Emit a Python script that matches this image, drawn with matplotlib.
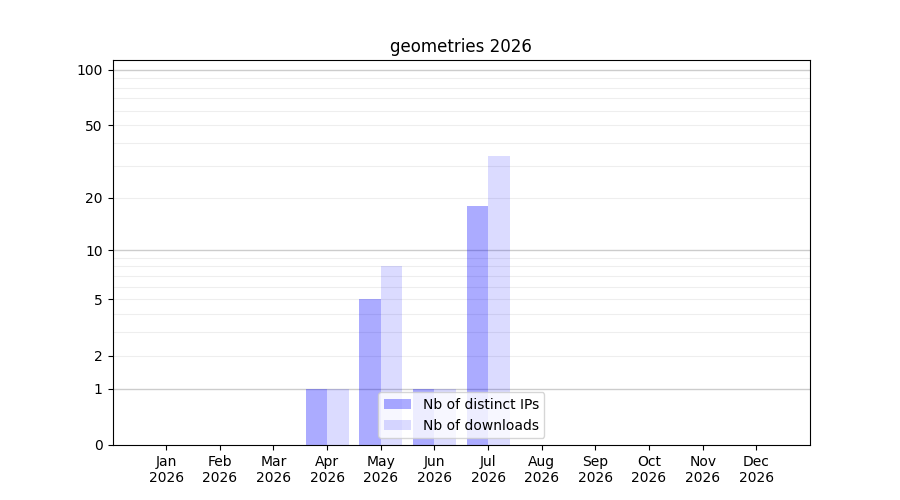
import numpy as np
import matplotlib
matplotlib.use("Agg")
import matplotlib.pyplot as plt

months = ["Jan", "Feb", "Mar", "Apr", "May", "Jun", "Jul", "Aug", "Sep", "Oct", "Nov", "Dec"]
year = "2026"
distinct_ips = [0, 0, 0, 1, 5, 1, 18, 0, 0, 0, 0, 0]
downloads = [0, 0, 0, 1, 8, 1, 34, 0, 0, 0, 0, 0]
y_ticks = [0, 1, 2, 5, 10, 20, 50, 100]
major_grid = [1, 10, 100]
minor_grid = [2, 3, 4, 5, 6, 7, 8, 9, 20, 30, 40, 50, 60, 70, 80, 90]
title = "geometries 2026"

fig, ax = plt.subplots(figsize=(9, 5), dpi=100)

def fwd(y):
    return np.log10(1 + np.clip(y, 0, None))

def inv(y):
    return 10 ** y - 1

ax.set_yscale("function", functions=(fwd, inv))

x = np.arange(len(months))
w = 0.4
ax.bar(x - w / 2, distinct_ips, width=w, color="blue", alpha=0.33, label="Nb of distinct IPs")
ax.bar(x + w / 2, downloads, width=w, color="blue", alpha=0.14, label="Nb of downloads")

for v in major_grid:
    ax.axhline(v, color="#cccccc", lw=1, zorder=0.5)
for v in minor_grid:
    ax.axhline(v, color="#eeeeee", lw=0.8, zorder=0.4)

ax.set_ylim(0, 113)
ax.set_xlim(-1, 12)
ax.set_yticks(y_ticks)
ax.set_yticklabels([str(t) for t in y_ticks])
ax.yaxis.set_minor_locator(matplotlib.ticker.NullLocator())
ax.set_xticks(x)
ax.set_xticklabels([f"{m}\n{year}" for m in months])
ax.set_title(title)
ax.legend(loc="lower center")

fig.savefig("out.png", dpi=100)
